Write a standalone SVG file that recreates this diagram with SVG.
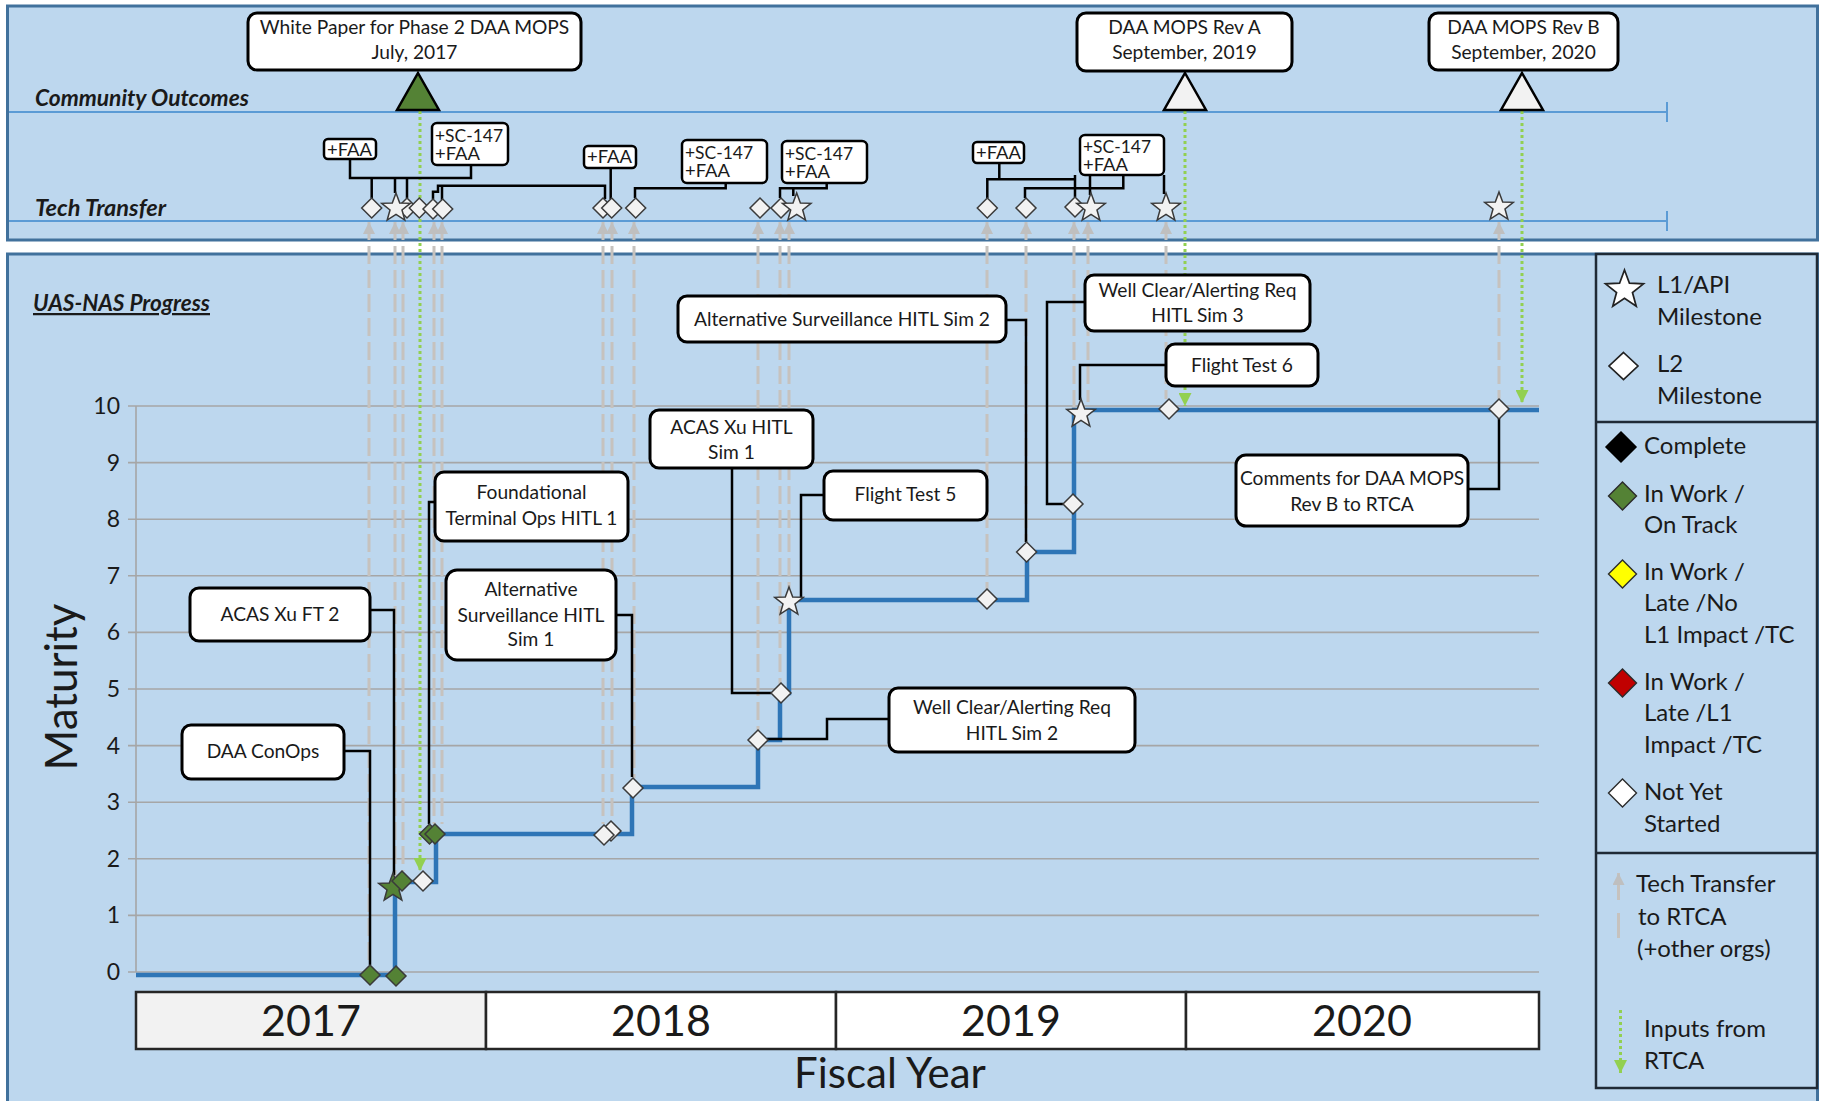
<svg xmlns="http://www.w3.org/2000/svg" width="1825" height="1101" viewBox="0 0 1825 1101">
<style>
.txt{font-family:Lato,"Liberation Sans","DejaVu Sans",sans-serif;fill:#1a1a1a}
.bx{font-size:19.2px;text-anchor:middle}
.tl{font-size:16.5px}
.lg{font-size:24px}
.ttl{font-size:22.5px;font-weight:bold;font-style:italic}
.ax{font-size:23px;text-anchor:end}
.yr{font-size:43px;text-anchor:middle}
.box{fill:#fff;stroke:#000;stroke-width:3}
.tbox{fill:#fff;stroke:#000;stroke-width:2.5}
.con{fill:none;stroke:#000;stroke-width:2.5}
.grid{stroke:#a6a6a6;stroke-width:1.6;fill:none}
.tt{fill:none;stroke:#c6c2be;stroke-width:3;stroke-dasharray:18 6;marker-start:url(#ttA)}
.rin{fill:none;stroke:#92d050;stroke-width:3;stroke-dasharray:3 3;marker-end:url(#inA)}
.mk{stroke:#3a3a3a;stroke-width:1.5}
.w{fill:#f2f2f2}
.g{fill:#548235}
.tri{stroke:#000;stroke-width:2.5}
</style>
<defs>
<path id="dia" d="M0,-10L10,0L0,10L-10,0Z"/>
<path id="star" d="M0,-15L3.7,-5.1L14.27,-4.64L5.99,1.95L8.82,12.14L0,6.3L-8.82,12.14L-5.99,1.95L-14.27,-4.64L-3.7,-5.1Z"/>
<marker id="ttA" markerUnits="userSpaceOnUse" markerWidth="12" markerHeight="12" viewBox="0 0 12 12" refX="12" refY="6" orient="auto-start-reverse"><path d="M0,0L12,6L0,12Z" fill="#bfbfbf"/></marker>
<marker id="inA" markerUnits="userSpaceOnUse" markerWidth="13" markerHeight="13" viewBox="0 0 13 13" refX="13" refY="6.5" orient="auto"><path d="M0,0L13,6.5L0,13Z" fill="#92d050"/></marker>
</defs>

<rect width="1825" height="1101" fill="#fff"/>
<!-- panels -->
<rect x="7.5" y="6" width="1810" height="234" fill="#bdd7ee" stroke="#41719c" stroke-width="3"/>
<rect x="7.5" y="254" width="1810" height="870" fill="#bdd7ee" stroke="#41719c" stroke-width="3"/>

<!-- top panel lanes -->
<path d="M9,112H1667M1667,102V122M9,221H1667M1667,211V231" stroke="#5b9bd5" stroke-width="2" fill="none"/>
<text class="txt ttl" x="35" y="106" textLength="214" lengthAdjust="spacingAndGlyphs">Community Outcomes</text>
<text class="txt ttl" x="35" y="216" textLength="131" lengthAdjust="spacingAndGlyphs">Tech Transfer</text>
<text class="txt ttl" x="33" y="311" text-decoration="underline" textLength="177" lengthAdjust="spacingAndGlyphs">UAS-NAS Progress</text>

<!-- chart grid -->
<g id="grid">
<path class="grid" d="M128,972H1539M128,915.4H1539M128,858.8H1539M128,802.2H1539M128,745.6H1539M128,689H1539M128,632.4H1539M128,575.8H1539M128,519.2H1539M128,462.6H1539M128,406H1539M136,406V972"/>
<text class="txt ax" x="120" y="980">0</text>
<text class="txt ax" x="120" y="923.4">1</text>
<text class="txt ax" x="120" y="866.8">2</text>
<text class="txt ax" x="120" y="810.2">3</text>
<text class="txt ax" x="120" y="753.6">4</text>
<text class="txt ax" x="120" y="697">5</text>
<text class="txt ax" x="120" y="640.4">6</text>
<text class="txt ax" x="120" y="583.8">7</text>
<text class="txt ax" x="120" y="527.2">8</text>
<text class="txt ax" x="120" y="470.6">9</text>
<text class="txt ax" x="120" y="414">10</text>
<text class="txt" x="77" y="687" font-size="44" text-anchor="middle" transform="rotate(-90 77 687)">Maturity</text>
</g>

<!-- year axis -->
<g id="years">
<rect x="136" y="992" width="350" height="57" fill="#f2f2f2" stroke="#262626" stroke-width="2.5"/>
<rect x="486" y="992" width="350" height="57" fill="#fff" stroke="#262626" stroke-width="2.5"/>
<rect x="836" y="992" width="350" height="57" fill="#fff" stroke="#262626" stroke-width="2.5"/>
<rect x="1186" y="992" width="353" height="57" fill="#fff" stroke="#262626" stroke-width="2.5"/>
<text class="txt yr" x="311" y="1036">2017</text>
<text class="txt yr" x="661" y="1036">2018</text>
<text class="txt yr" x="1011" y="1036">2019</text>
<text class="txt yr" x="1362" y="1036">2020</text>
<text class="txt" x="890" y="1088" font-size="42" text-anchor="middle">Fiscal Year</text>
</g>

<!-- connectors -->
<g id="connectors">
<g id="techTransferLinks">
<path class="tt" d="M369,222V965"/>
<path class="tt" d="M395,222V876"/>
<path class="tt" d="M403,222V871"/>
<path class="tt" d="M434,222V824"/>
<path class="tt" d="M442,222V824"/>
<path class="tt" d="M603,222V824"/>
<path class="tt" d="M612,222V821"/>
<path class="tt" d="M634,222V778"/>
<path class="tt" d="M758,222V730"/>
<path class="tt" d="M780,222V684"/>
<path class="tt" d="M789,222V588"/>
<path class="tt" d="M987,222V589"/>
<path class="tt" d="M1026,222V542"/>
<path class="tt" d="M1074,222V494"/>
<path class="tt" d="M1088,222V402"/>
<path class="tt" d="M1166,222V399"/>
<path class="tt" d="M1499,222V399"/>
</g>
<g id="rtcaInputs">
<path class="rin" d="M420,111V871"/>
<path class="rin" d="M1185,111V406"/>
<path class="rin" d="M1522,111V403"/>
</g>
<path id="progress" d="M136,975H395V882H436V834H632V787H758V740H780V693H789V600H1027V552H1074V410H1539" fill="none" stroke="#2e75b6" stroke-width="4.5"/>
<g id="labelLinks">
<path class="con" d="M344,751H370V965"/>
<path class="con" d="M370,610H394V875"/>
<path class="con" d="M435,502H429V824"/>
<path class="con" d="M616,615H632V777"/>
<path class="con" d="M732,468V693H771"/>
<path class="con" d="M824,495H801V598"/>
<path class="con" d="M889,719H827V739H767"/>
<path class="con" d="M1007,320H1026V542"/>
<path class="con" d="M1085,302H1047V504H1063"/>
<path class="con" d="M1166,365H1080V400"/>
<path class="con" d="M1468,489H1499V418"/>
</g>
<g id="ttBoxLinks">
<path class="con" d="M350,159V178H471V165M371.7,178V198M395,178V193M407,178V198"/>
<path class="con" d="M433,199V191.7H438V185.7H605V199M442,185.7V200M610.7,168V199"/>
<path class="con" d="M725.7,182.7V188.3H635V198"/>
<path class="con" d="M826.7,183.3V188.3H780V198M793.3,188.3V196"/>
<path class="con" d="M999.3,162.7V179.3M987.3,198V179.3H1075V175M1075,179V197M1025,198V188.3H1123.3V175M1090,175V195M1164,175V194"/>
</g>
</g>

<!-- outcome triangles -->
<g id="outcomes">
<polygon class="tri" points="418,73 439,110 397,110" fill="#548235"/>
<polygon class="tri" points="1185,73 1206,110 1164,110" fill="#f2f2f2"/>
<polygon class="tri" points="1522,73 1543,110 1501,110" fill="#f2f2f2"/>
</g>

<!-- tech transfer markers -->
<g id="ttMarkers" class="mk">
<use href="#dia" x="371.7" y="208" class="w"/>
<use href="#dia" x="407" y="208" class="w"/>
<use href="#star" x="396" y="208" class="w"/>
<use href="#dia" x="419.3" y="208" class="w"/>
<use href="#dia" x="433" y="209" class="w"/>
<use href="#dia" x="442.7" y="209" class="w"/>
<use href="#dia" x="603" y="208" class="w"/>
<use href="#dia" x="611.7" y="208" class="w"/>
<use href="#dia" x="635.7" y="208" class="w"/>
<use href="#dia" x="760" y="208" class="w"/>
<use href="#dia" x="781" y="208" class="w"/>
<use href="#star" x="796.7" y="208" class="w"/>
<use href="#dia" x="987.3" y="208" class="w"/>
<use href="#dia" x="1026" y="208" class="w"/>
<use href="#dia" x="1075" y="207" class="w"/>
<use href="#star" x="1091" y="208" class="w"/>
<use href="#star" x="1166" y="208" class="w"/>
<use href="#star" x="1499" y="207" class="w"/>
</g>

<!-- chart markers -->
<g id="chartMarkers" class="mk">
<use href="#dia" x="370" y="975" class="g"/>
<use href="#dia" x="396" y="976" class="g"/>
<use href="#star" x="393" y="888" class="g"/>
<use href="#dia" x="402" y="881" class="g"/>
<use href="#dia" x="423" y="881" class="w"/>
<use href="#dia" x="429.5" y="834" class="g"/>
<use href="#dia" x="435" y="834" class="g"/>
<use href="#dia" x="611" y="831" class="w"/>
<use href="#dia" x="604" y="835" class="w"/>
<use href="#dia" x="633" y="788" class="w"/>
<use href="#dia" x="758" y="740" class="w"/>
<use href="#dia" x="781" y="693" class="w"/>
<use href="#star" x="789" y="602" class="w"/>
<use href="#dia" x="987" y="599" class="w"/>
<use href="#dia" x="1026.6" y="552" class="w"/>
<use href="#dia" x="1073" y="504" class="w"/>
<use href="#star" x="1081" y="414" class="w"/>
<use href="#dia" x="1169" y="409" class="w"/>
<use href="#dia" x="1499" y="409" class="w"/>
</g>

<!-- top outcome boxes -->
<g id="whitePaper">
<rect class="box" x="248" y="13" width="333" height="57" rx="9"/>
<text class="txt bx" x="414.5" y="34">White Paper for Phase 2 DAA MOPS</text>
<text class="txt bx" x="414.5" y="59">July, 2017</text>
</g>
<g id="mopsRevA">
<rect class="box" x="1077" y="13" width="215" height="58" rx="9"/>
<text class="txt bx" x="1184.5" y="34">DAA MOPS Rev A</text>
<text class="txt bx" x="1184.5" y="59">September, 2019</text>
</g>
<g id="mopsRevB">
<rect class="box" x="1429" y="13" width="189" height="57" rx="9"/>
<text class="txt bx" x="1523.5" y="34">DAA MOPS Rev B</text>
<text class="txt bx" x="1523.5" y="59">September, 2020</text>
</g>

<!-- tech transfer labels -->
<g id="tt1"><rect class="tbox" x="324" y="139" width="52" height="20" rx="4"/><text class="txt tl" x="327" y="155.5" textLength="45" lengthAdjust="spacingAndGlyphs">+FAA</text></g>
<g id="tt2"><rect class="tbox" x="432" y="123" width="76" height="42" rx="5"/><text class="txt tl" x="435" y="141.5" textLength="68" lengthAdjust="spacingAndGlyphs">+SC-147</text><text class="txt tl" x="435" y="160" textLength="45" lengthAdjust="spacingAndGlyphs">+FAA</text></g>
<g id="tt3"><rect class="tbox" x="584" y="146" width="52" height="22" rx="4"/><text class="txt tl" x="587" y="163" textLength="45" lengthAdjust="spacingAndGlyphs">+FAA</text></g>
<g id="tt4"><rect class="tbox" x="682" y="140" width="85" height="43" rx="5"/><text class="txt tl" x="685" y="158.5" textLength="68" lengthAdjust="spacingAndGlyphs">+SC-147</text><text class="txt tl" x="685" y="177" textLength="45" lengthAdjust="spacingAndGlyphs">+FAA</text></g>
<g id="tt5"><rect class="tbox" x="782" y="141" width="85" height="42" rx="5"/><text class="txt tl" x="785" y="159.5" textLength="68" lengthAdjust="spacingAndGlyphs">+SC-147</text><text class="txt tl" x="785" y="178" textLength="45" lengthAdjust="spacingAndGlyphs">+FAA</text></g>
<g id="tt6"><rect class="tbox" x="973" y="142" width="51" height="21" rx="4"/><text class="txt tl" x="976" y="158.5" textLength="45" lengthAdjust="spacingAndGlyphs">+FAA</text></g>
<g id="tt7"><rect class="tbox" x="1080" y="135" width="84" height="40" rx="5"/><text class="txt tl" x="1083" y="153" textLength="68" lengthAdjust="spacingAndGlyphs">+SC-147</text><text class="txt tl" x="1083" y="171" textLength="45" lengthAdjust="spacingAndGlyphs">+FAA</text></g>

<!-- chart label boxes -->
<g id="daaConOps"><rect class="box" x="182" y="725" width="162" height="54" rx="9"/><text class="txt bx" x="263" y="758">DAA ConOps</text></g>
<g id="acasFT2"><rect class="box" x="190" y="588" width="180" height="53" rx="9"/><text class="txt bx" x="280" y="621">ACAS Xu FT 2</text></g>
<g id="foundational"><rect class="box" x="435" y="472" width="193" height="69" rx="9"/><text class="txt bx" x="531.5" y="499">Foundational</text><text class="txt bx" x="531.5" y="525">Terminal Ops HITL 1</text></g>
<g id="altSurv1"><rect class="box" x="446" y="570" width="170" height="90" rx="11"/><text class="txt bx" x="531" y="596">Alternative</text><text class="txt bx" x="531" y="622">Surveillance HITL</text><text class="txt bx" x="531" y="646">Sim 1</text></g>
<g id="acasHitl1"><rect class="box" x="650" y="410" width="163" height="58" rx="9"/><text class="txt bx" x="731.5" y="434">ACAS Xu HITL</text><text class="txt bx" x="731.5" y="459">Sim 1</text></g>
<g id="flightTest5"><rect class="box" x="824" y="471" width="163" height="49" rx="9"/><text class="txt bx" x="905.5" y="501">Flight Test 5</text></g>
<g id="altSurv2"><rect class="box" x="678" y="296" width="328" height="46" rx="9"/><text class="txt bx" x="842" y="326">Alternative Surveillance HITL Sim 2</text></g>
<g id="wellClear3"><rect class="box" x="1085" y="275" width="225" height="56" rx="9"/><text class="txt bx" x="1197.5" y="297">Well Clear/Alerting Req</text><text class="txt bx" x="1197.5" y="322">HITL Sim 3</text></g>
<g id="flightTest6"><rect class="box" x="1166" y="344" width="152" height="42" rx="9"/><text class="txt bx" x="1242" y="372">Flight Test 6</text></g>
<g id="wellClear2"><rect class="box" x="889" y="688" width="246" height="64" rx="9"/><text class="txt bx" x="1012" y="714">Well Clear/Alerting Req</text><text class="txt bx" x="1012" y="740">HITL Sim 2</text></g>
<g id="commentsRevB"><rect class="box" x="1236" y="455" width="232" height="71" rx="10"/><text class="txt bx" x="1352" y="485" font-size="18.5">Comments for DAA MOPS</text><text class="txt bx" x="1352" y="511" font-size="18.5">Rev B to RTCA</text></g>

<!-- legend -->
<g id="legend">
<rect x="1596" y="254" width="221" height="834" fill="#bdd7ee" stroke="#1f2a36" stroke-width="2.5"/>
<path d="M1596,422H1817M1596,853H1817" stroke="#1f2a36" stroke-width="2.5"/>
<use href="#star" transform="translate(1624.5 290) scale(1.33)" fill="#fff" stroke="#222" stroke-width="1.3"/>
<text class="txt lg" x="1657" y="293">L1/API</text>
<text class="txt lg" x="1657" y="325">Milestone</text>
<use href="#dia" transform="translate(1623.5 366) scale(1.45 1.35)" fill="#fff" stroke="#222" stroke-width="1.2"/>
<text class="txt lg" x="1657" y="372">L2</text>
<text class="txt lg" x="1657" y="404">Milestone</text>
<use href="#dia" transform="translate(1621 447) scale(1.5)" fill="#000" stroke="#000" stroke-width="1"/>
<text class="txt lg" x="1644" y="454">Complete</text>
<use href="#dia" transform="translate(1622.5 496) scale(1.4)" fill="#548235" stroke="#2b2b2b" stroke-width="1"/>
<text class="txt lg" x="1644" y="502">In Work /</text>
<text class="txt lg" x="1644" y="533">On Track</text>
<use href="#dia" transform="translate(1622.5 574) scale(1.4)" fill="#ffff00" stroke="#2b2b2b" stroke-width="1"/>
<text class="txt lg" x="1644" y="580">In Work /</text>
<text class="txt lg" x="1644" y="611">Late /No</text>
<text class="txt lg" x="1644" y="643">L1 Impact /TC</text>
<use href="#dia" transform="translate(1622.5 683) scale(1.4)" fill="#c00000" stroke="#2b2b2b" stroke-width="1"/>
<text class="txt lg" x="1644" y="690">In Work /</text>
<text class="txt lg" x="1644" y="721">Late /L1</text>
<text class="txt lg" x="1644" y="753">Impact /TC</text>
<use href="#dia" transform="translate(1622.5 793) scale(1.4)" fill="#fff" stroke="#2b2b2b" stroke-width="1"/>
<text class="txt lg" x="1644" y="800">Not Yet</text>
<text class="txt lg" x="1644" y="832">Started</text>
<path d="M1618.5,873V938" fill="none" stroke="#c6c2be" stroke-width="3" stroke-dasharray="27 13 25" marker-start="url(#ttA)"/>
<text class="txt lg" x="1636" y="892">Tech Transfer</text>
<text class="txt lg" x="1638" y="925">to RTCA</text>
<text class="txt lg" x="1637" y="957">(+other orgs)</text>
<path class="rin" d="M1620.5,1010V1073"/>
<text class="txt lg" x="1644" y="1037">Inputs from</text>
<text class="txt lg" x="1644" y="1069">RTCA</text>
</g>
</svg>
